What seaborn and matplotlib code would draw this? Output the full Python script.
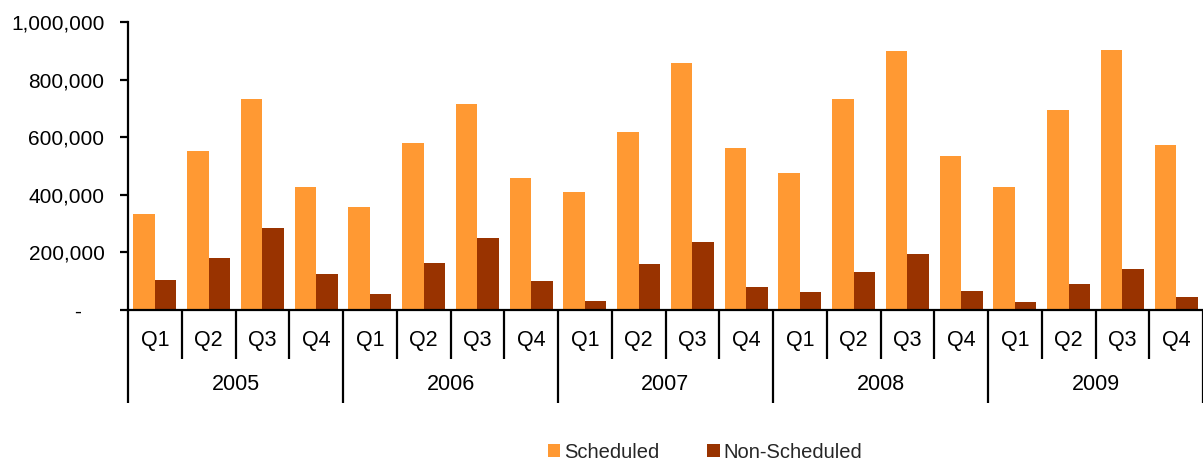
import matplotlib
matplotlib.use("Agg")
import matplotlib.pyplot as plt
import matplotlib.transforms as mtransforms
from matplotlib.ticker import FixedLocator, FuncFormatter
from matplotlib.patches import Patch
import seaborn as sns
import pandas as pd

years = ["2005", "2006", "2007", "2008", "2009"]
quarters = ["Q1", "Q2", "Q3", "Q4"]
scheduled = [333000, 552000, 733000, 427000,
             358000, 580000, 715000, 458000,
             410000, 618000, 858000, 563000,
             476000, 733000, 899000, 535000,
             427000, 694000, 903000, 573000]
non_scheduled = [104000, 181000, 285000, 125000,
                 56000, 163000, 250000, 101000,
                 31000, 160000, 236000, 80000,
                 63000, 132000, 194000, 66000,
                 28000, 90000, 142000, 45000]
series_names = ["Scheduled", "Non-Scheduled"]
colors = ["#FF9933", "#993300"]

sns.set_theme(style="white")
plt.rcParams["font.family"] = ["Liberation Sans", "DejaVu Sans"]

cats = [f"{y} {q}" for y in years for q in quarters]
df = pd.DataFrame({
    "cat": cats * 2,
    "value": scheduled + non_scheduled,
    "series": [series_names[0]] * len(cats) + [series_names[1]] * len(cats),
})

W, H = 1203, 461
FS = 15.5
fig = plt.figure(figsize=(W / 100, H / 100), dpi=100)
ax = fig.add_axes([128 / W, (H - 310) / H, (W - 128) / W, 288 / H])

sns.barplot(data=df, x="cat", y="value", hue="series", order=cats,
            hue_order=series_names, palette=colors, width=0.8,
            saturation=1, legend=False, ax=ax, errorbar=None, linewidth=0)

ax.set_xlim(-0.5, len(cats) - 0.5)
ax.set_ylim(0, 1000000)
ax.set_xlabel("")
ax.set_ylabel("")
for s in ["top", "right"]:
    ax.spines[s].set_visible(False)
for s in ["left", "bottom"]:
    ax.spines[s].set_linewidth(1.6)
    ax.spines[s].set_color("black")

ax.set_yticks([0, 200000, 400000, 600000, 800000, 1000000])
ax.yaxis.set_major_formatter(FuncFormatter(lambda v, p: "-    " if v == 0 else f"{v:,.0f}"))
ax.tick_params(axis="y", direction="out", length=6, width=1.6, color="black",
               labelsize=15, labelcolor="black", pad=11, left=True)

# x-axis separators: quarter boundaries (minor) and year boundaries (major)
bounds = [i - 0.5 for i in range(len(cats) + 1)]
ybounds = [i * 4 - 0.5 for i in range(len(years) + 1)]
ax.xaxis.set_minor_locator(FixedLocator(bounds))
ax.xaxis.set_major_locator(FixedLocator(ybounds))
ax.set_xticklabels([""] * len(ybounds))
ax.tick_params(axis="x", which="minor", direction="out", length=35, width=1.6,
               color="black", bottom=True)
ax.tick_params(axis="x", which="major", direction="out", length=67, width=1.6,
               color="black", bottom=True)

trans = mtransforms.blended_transform_factory(ax.transData, fig.transFigure)
for i, c in enumerate(cats):
    ax.text(i, (H - 340) / H, quarters[i % 4], transform=trans, ha="center",
            va="center", fontsize=FS, color="black")
for j, y in enumerate(years):
    ax.text(j * 4 + 1.5, (H - 384) / H, y, transform=trans, ha="center",
            va="center", fontsize=FS, color="black")

handles = [Patch(facecolor=c, edgecolor="none", label=n) for c, n in zip(colors, series_names)]
fig.legend(handles=handles, loc="center", bbox_to_anchor=(705 / W, (H - 452) / H),
           ncol=2, frameon=False, fontsize=14.5, handlelength=0.6, handleheight=0.6,
           handletextpad=0.2, columnspacing=2.4, borderaxespad=0, borderpad=0)

fig.savefig("out.png", dpi=100)
